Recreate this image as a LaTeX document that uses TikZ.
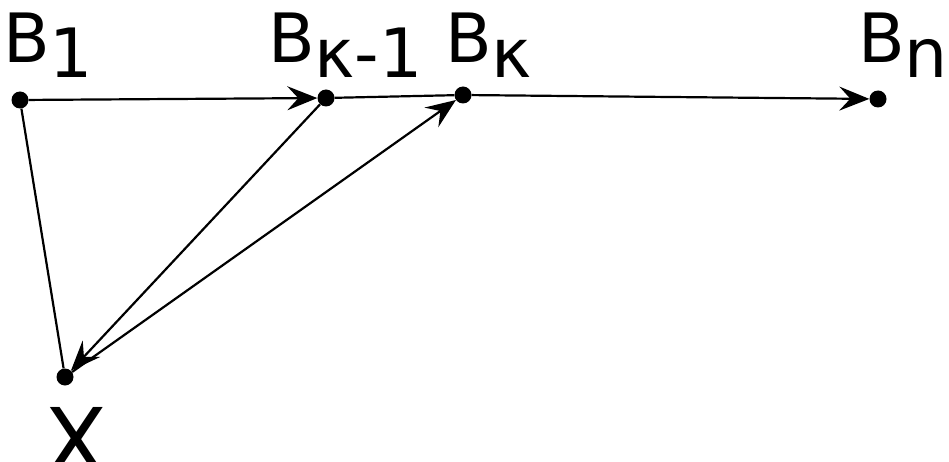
\documentclass[tikz,border=0pt]{standalone}
\usepackage{fontspec}
\setmainfont{DejaVu Sans}
\usetikzlibrary{arrows.meta}
\begin{document}
\begin{tikzpicture}[x=1pt,y=-1pt,
  dot/.style={circle,fill=black,inner sep=0pt,minimum size=17pt},
  lbl/.style={anchor=base west,inner sep=0pt,font=\fontsize{68}{68}\selectfont},
  conn/.style={line width=2.2pt},
  arr/.style={conn,-{Stealth[length=30pt,width=24pt,inset=11pt]}}]
\useasboundingbox (0,0) rectangle (949,462);
\node[dot] (b1) at (20,100) {};
\node[dot] (bk1) at (326,98) {};
\node[dot] (bk) at (463,95) {};
\node[dot] (bn) at (878,99) {};
\node[dot] (x) at (65,377) {};
\node[lbl] (lb1) at (3,63) {B\raisebox{-15pt}{1}};
\node[lbl] (lbk1) at (268,63) {B\raisebox{-15pt}{κ-1}};
\node[lbl] (lbk) at (445,63) {B\raisebox{-15pt}{κ}};
\node[lbl] (lbn) at (858,63) {B\raisebox{-15pt}{n}};
\node[anchor=base west,inner sep=0pt,font=\fontsize{92}{92}\selectfont] (lx) at (44,474) {X};
\draw[arr] (b1) -- (bk1);
\draw[conn] (bk1) -- (bk);
\draw[arr] (bk) -- (bn);
\draw[conn] (b1) -- (x);
\draw[arr] (bk1) -- (x);
\draw[arr] (x) -- (bk);
\end{tikzpicture}
\end{document}
